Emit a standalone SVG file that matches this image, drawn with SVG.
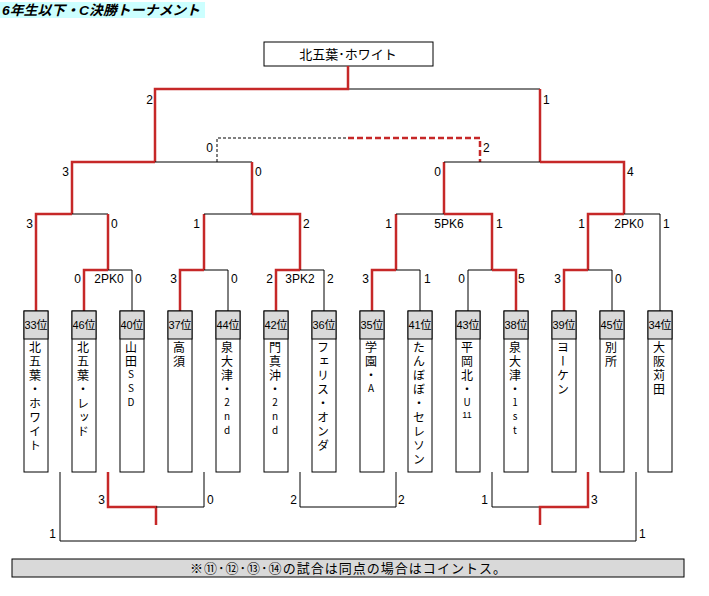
<svg xmlns="http://www.w3.org/2000/svg" width="709" height="596" viewBox="0 0 709 596">
<style>
text{font-family:"Liberation Sans","Noto Sans CJK JP",sans-serif;fill:#000}
.k{stroke:#000;stroke-width:1;fill:none}
.r{stroke:#c62828;stroke-width:2.5;fill:none}
.kd{stroke:#000;stroke-width:1;fill:none;stroke-dasharray:3 2}
.rd{stroke:#c62828;stroke-width:2.5;fill:none;stroke-dasharray:6 3}
.s{font-size:12px}
.e{text-anchor:end}
.m{text-anchor:middle}
.box{fill:#fff;stroke:#000;stroke-width:1}
.hd{fill:#d9d9d9;stroke:#000;stroke-width:1}
.rk{font-size:11px;text-anchor:middle}
.v{font-size:12px;font-family:"Noto Sans CJK JP",sans-serif;writing-mode:vertical-rl;text-orientation:upright;letter-spacing:2px}
.sm{font-size:10px;letter-spacing:4px}
</style>
<rect x="0" y="2" width="205" height="16" fill="#ccffff"/>
<text x="2" y="15" font-size="13.5" font-weight="bold" font-style="italic" textLength="198" lengthAdjust="spacingAndGlyphs" font-family="Noto Sans CJK JP,sans-serif">6年生以下・C決勝トーナメント</text>

<g id="champion">
<rect x="264" y="42" width="169" height="24" class="box"/>
<text x="348" y="59" font-size="13" class="m" font-family="Noto Sans CJK JP,sans-serif">北五葉･ホワイト</text>
</g>

<g id="connectors">
<path class="k" d="M348,89 H540"/>
<path class="r" d="M348,66 V89 H155 V162"/>
<path class="r" d="M540,89 V162"/>
<path class="kd" d="M217,162 V138 H348"/>
<path class="rd" d="M348,138 H480 V162"/>
<path class="r" d="M72,214 V162 H155"/>
<path class="k" d="M155,162 H252"/>
<path class="r" d="M252,162 V214"/>
<path class="r" d="M444,214 V162"/>
<path class="k" d="M444,162 H540"/>
<path class="r" d="M540,162 H624 V214"/>
<path class="r" d="M36,311 V214 H72"/>
<path class="k" d="M72,214 H108"/>
<path class="r" d="M108,214 V270"/>
<path class="r" d="M204,270 V214"/>
<path class="k" d="M204,214 H252"/>
<path class="r" d="M252,214 H300 V270"/>
<path class="r" d="M396,270 V214"/>
<path class="k" d="M396,214 H444"/>
<path class="r" d="M444,214 H492 V270"/>
<path class="r" d="M588,270 V214 H624"/>
<path class="k" d="M624,214 H660 V311"/>
<path class="r" d="M84,311 V270 H108"/>
<path class="k" d="M108,270 H132 V311"/>
<path class="r" d="M180,311 V270 H204"/>
<path class="k" d="M204,270 H228 V311"/>
<path class="r" d="M276,311 V270 H300"/>
<path class="k" d="M300,270 H324 V311"/>
<path class="r" d="M372,311 V270 H396"/>
<path class="k" d="M396,270 H420 V311"/>
<path class="k" d="M468,311 V270 H492"/>
<path class="r" d="M492,270 H516 V311"/>
<path class="r" d="M564,311 V270 H588"/>
<path class="k" d="M588,270 H612 V311"/>
<path class="k" d="M60,472 V541 H636 V472"/>
<path class="r" d="M108,472 V507 H156 V525"/>
<path class="k" d="M156,507 H204 V472"/>
<path class="k" d="M300,472 V507 H396 V472"/>
<path class="k" d="M492,472 V507 H540"/>
<path class="r" d="M540,525 V507 H588 V472"/>
</g>

<g id="scores" class="s">
<text x="153" y="104" class="e">2</text>
<text x="543" y="104">1</text>
<text x="213" y="152" class="e">0</text>
<text x="483" y="152">2</text>
<text x="69" y="176" class="e">3</text>
<text x="255" y="176">0</text>
<text x="441" y="176" class="e">0</text>
<text x="627" y="176">4</text>
<text x="33" y="228" class="e">3</text>
<text x="111" y="228">0</text>
<text x="200" y="228" class="e">1</text>
<text x="303" y="228">2</text>
<text x="392" y="228" class="e">1</text>
<text x="449" y="228" class="m">5PK6</text>
<text x="496" y="228">1</text>
<text x="585" y="228" class="e">1</text>
<text x="629" y="228" class="m">2PK0</text>
<text x="663" y="228">1</text>
<text x="81" y="283" class="e">0</text>
<text x="109" y="283" class="m">2PK0</text>
<text x="135" y="283">0</text>
<text x="177" y="283" class="e">3</text>
<text x="231" y="283">0</text>
<text x="273" y="283" class="e">2</text>
<text x="300" y="283" class="m">3PK2</text>
<text x="327" y="283">2</text>
<text x="369" y="283" class="e">3</text>
<text x="424" y="283">1</text>
<text x="465" y="283" class="e">0</text>
<text x="518" y="283">5</text>
<text x="561" y="283" class="e">3</text>
<text x="615" y="283">0</text>
<text x="105" y="504" class="e">3</text>
<text x="207" y="504">0</text>
<text x="297" y="504" class="e">2</text>
<text x="398" y="504">2</text>
<text x="488" y="504" class="e">1</text>
<text x="591" y="504">3</text>
<text x="56" y="538" class="e">1</text>
<text x="639" y="538">1</text>
</g>

<g id="t33">
<rect x="24" y="311" width="24" height="161" class="box"/><rect x="24" y="311" width="24" height="28" class="hd"/>
<text x="36" y="329" class="rk">33位</text>
<text x="35" y="341" class="v">北五葉・ホワイト</text>
</g>
<g id="t46">
<rect x="72" y="311" width="24" height="161" class="box"/><rect x="72" y="311" width="24" height="28" class="hd"/>
<text x="84" y="329" class="rk">46位</text>
<text x="83" y="341" class="v">北五葉・レッド</text>
</g>
<g id="t40">
<rect x="120" y="311" width="24" height="161" class="box"/><rect x="120" y="311" width="24" height="28" class="hd"/>
<text x="132" y="329" class="rk">40位</text>
<text x="131" y="341" class="v">山田<tspan class="sm">SSD</tspan></text>
</g>
<g id="t37">
<rect x="168" y="311" width="24" height="161" class="box"/><rect x="168" y="311" width="24" height="28" class="hd"/>
<text x="180" y="329" class="rk">37位</text>
<text x="179" y="341" class="v">高須</text>
</g>
<g id="t44">
<rect x="216" y="311" width="24" height="161" class="box"/><rect x="216" y="311" width="24" height="28" class="hd"/>
<text x="228" y="329" class="rk">44位</text>
<text x="227" y="341" class="v">泉大津・<tspan class="sm">2nd</tspan></text>
</g>
<g id="t42">
<rect x="264" y="311" width="24" height="161" class="box"/><rect x="264" y="311" width="24" height="28" class="hd"/>
<text x="276" y="329" class="rk">42位</text>
<text x="275" y="341" class="v">門真沖・<tspan class="sm">2nd</tspan></text>
</g>
<g id="t36">
<rect x="312" y="311" width="24" height="161" class="box"/><rect x="312" y="311" width="24" height="28" class="hd"/>
<text x="324" y="329" class="rk">36位</text>
<text x="323" y="341" class="v">フェリス・オンダ</text>
</g>
<g id="t35">
<rect x="360" y="311" width="24" height="161" class="box"/><rect x="360" y="311" width="24" height="28" class="hd"/>
<text x="372" y="329" class="rk">35位</text>
<text x="371" y="341" class="v">学園・<tspan class="sm">A</tspan></text>
</g>
<g id="t41">
<rect x="408" y="311" width="24" height="161" class="box"/><rect x="408" y="311" width="24" height="28" class="hd"/>
<text x="420" y="329" class="rk">41位</text>
<text x="419" y="341" class="v">たんぼぼ・セレソン</text>
</g>
<g id="t43">
<rect x="456" y="311" width="24" height="161" class="box"/><rect x="456" y="311" width="24" height="28" class="hd"/>
<text x="468" y="329" class="rk">43位</text>
<text x="467" y="341" class="v">平岡北・<tspan class="sm">U</tspan></text>
<text x="467" y="418" font-size="9" class="m">11</text>
</g>
<g id="t38">
<rect x="504" y="311" width="24" height="161" class="box"/><rect x="504" y="311" width="24" height="28" class="hd"/>
<text x="516" y="329" class="rk">38位</text>
<text x="515" y="341" class="v">泉大津・<tspan class="sm">1st</tspan></text>
</g>
<g id="t39">
<rect x="552" y="311" width="24" height="161" class="box"/><rect x="552" y="311" width="24" height="28" class="hd"/>
<text x="564" y="329" class="rk">39位</text>
<text x="563" y="341" class="v">ヨーケン</text>
</g>
<g id="t45">
<rect x="600" y="311" width="24" height="161" class="box"/><rect x="600" y="311" width="24" height="28" class="hd"/>
<text x="612" y="329" class="rk">45位</text>
<text x="611" y="341" class="v">別所</text>
</g>
<g id="t34">
<rect x="648" y="311" width="24" height="161" class="box"/><rect x="648" y="311" width="24" height="28" class="hd"/>
<text x="660" y="329" class="rk">34位</text>
<text x="659" y="341" class="v">大阪苅田</text>
</g>

<g id="note">
<rect x="12" y="559" width="672" height="18" class="hd"/>
<text x="190" y="573" font-size="13" textLength="316" lengthAdjust="spacing" font-family="Noto Sans CJK JP,sans-serif">※⑪･⑫･⑬･⑭の試合は同点の場合はコイントス。</text>
</g>
</svg>
